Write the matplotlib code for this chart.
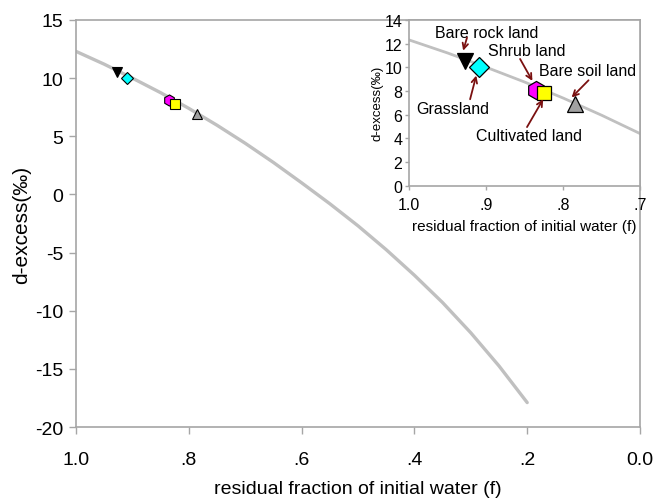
import numpy as np
import matplotlib
matplotlib.use('Agg')
import matplotlib.pyplot as plt

plt.rcParams['font.family'] = ['Liberation Sans', 'DejaVu Sans']
plt.rcParams['axes.unicode_minus'] = False

# Rayleigh-type curve
f_curve = [1.0, 0.95, 0.9, 0.85, 0.8, 0.75, 0.7, 0.65, 0.6, 0.55, 0.5,
           0.45, 0.4, 0.35, 0.3, 0.25, 0.2]
d_curve = [12.3, 11.2, 10.0, 8.75, 7.4, 5.95, 4.4, 2.75, 1.0, -0.8, -2.7,
           -4.75, -6.95, -9.3, -11.9, -14.75, -17.9]

# land-use samples
names = ['Bare rock land', 'Grassland', 'Shrub land', 'Cultivated land', 'Bare soil land']
f_pts = [0.928, 0.910, 0.835, 0.825, 0.785]
d_pts = [10.5, 10.0, 8.1, 7.8, 6.9]
markers = ['v', 'D', 'h', 's', '^']
colors = ['black', 'cyan', 'magenta', 'yellow', '#a0a0a0']

main_ticks = [1.0, 0.8, 0.6, 0.4, 0.2, 0.0]
main_ticklabels = ['1.0', '.8', '.6', '.4', '.2', '0.0']
inset_ticks = [1.0, 0.9, 0.8, 0.7]
inset_ticklabels = ['1.0', '.9', '.8', '.7']

spine_c = '#a6a6a6'
line_c = '#c0c0c0'
arrow_c = '#7a1010'

fig = plt.figure(figsize=(6.54, 5.02), dpi=100)
ax = fig.add_axes([0.1162, 0.1474, 0.8624, 0.8108])

ax.plot(f_curve, d_curve, color=line_c, lw=2.4, solid_capstyle='round', zorder=2)
ms_main = [7, 6.5, 8, 6.5, 7]
for i in range(len(names)):
    ax.plot(f_pts[i], d_pts[i], marker=markers[i], color=colors[i], mec='black',
            mew=0.8, ms=ms_main[i], ls='none', zorder=3)

ax.set_xlim(1.0, 0.0)
ax.set_ylim(-20, 15)
ax.set_xticks(main_ticks)
ax.set_xticklabels(main_ticklabels)
ax.set_yticks(range(-20, 16, 5))
ax.tick_params(axis='both', direction='out', length=5, width=1, color=spine_c,
               labelsize=14, pad=4)
ax.tick_params(axis='x', pad=12)
for s in ax.spines.values():
    s.set_color(spine_c)
    s.set_linewidth(1.2)
ax.set_xlabel('residual fraction of initial water (f)', fontsize=14, labelpad=9)
ax.set_ylabel('d-excess(‰)', fontsize=15, labelpad=3)

# inset
ins = fig.add_axes([0.6259, 0.6281, 0.3528, 0.3303])
ins.plot(f_curve, d_curve, color=line_c, lw=2.0, zorder=2)
ms_ins = [12, 10.5, 13, 9.5, 12]
for i in range(len(names)):
    ins.plot(f_pts[i], d_pts[i], marker=markers[i], color=colors[i], mec='black',
             mew=0.9, ms=ms_ins[i], ls='none', zorder=3)
ins.set_xlim(1.0, 0.7)
ins.set_ylim(0, 14)
ins.set_xticks(inset_ticks)
ins.set_xticklabels(inset_ticklabels)
ins.set_yticks(range(0, 15, 2))
ins.tick_params(axis='both', direction='out', length=3, width=1, color=spine_c,
                labelsize=11.5, pad=2)
ins.tick_params(axis='x', pad=5)
for s in ins.spines.values():
    s.set_color(spine_c)
    s.set_linewidth(1.2)
ins.set_xlabel('residual fraction of initial water (f)', fontsize=11, labelpad=5)
ins.set_ylabel('d-excess(‰)', fontsize=9.5, labelpad=1)

# label text positions and arrow start/end in inset data coords
lab_xy = [(0.900, 12.9), (0.944, 6.5), (0.847, 11.45), (0.845, 4.2), (0.768, 9.7)]
arr_from = [(0.925, 12.5), (0.921, 7.3), (0.856, 10.7), (0.847, 4.95), (0.767, 8.9)]
arr_to = [(0.930, 11.4), (0.913, 9.3), (0.840, 8.85), (0.826, 7.3), (0.789, 7.45)]
for i in range(len(names)):
    ins.text(lab_xy[i][0], lab_xy[i][1], names[i], ha='center', va='center', fontsize=11.5)
    ins.annotate('', xy=arr_to[i], xytext=arr_from[i],
                 arrowprops=dict(arrowstyle='->', color=arrow_c, lw=1.3,
                                 shrinkA=0, shrinkB=0, mutation_scale=10))

fig.savefig('out.png', dpi=100)
